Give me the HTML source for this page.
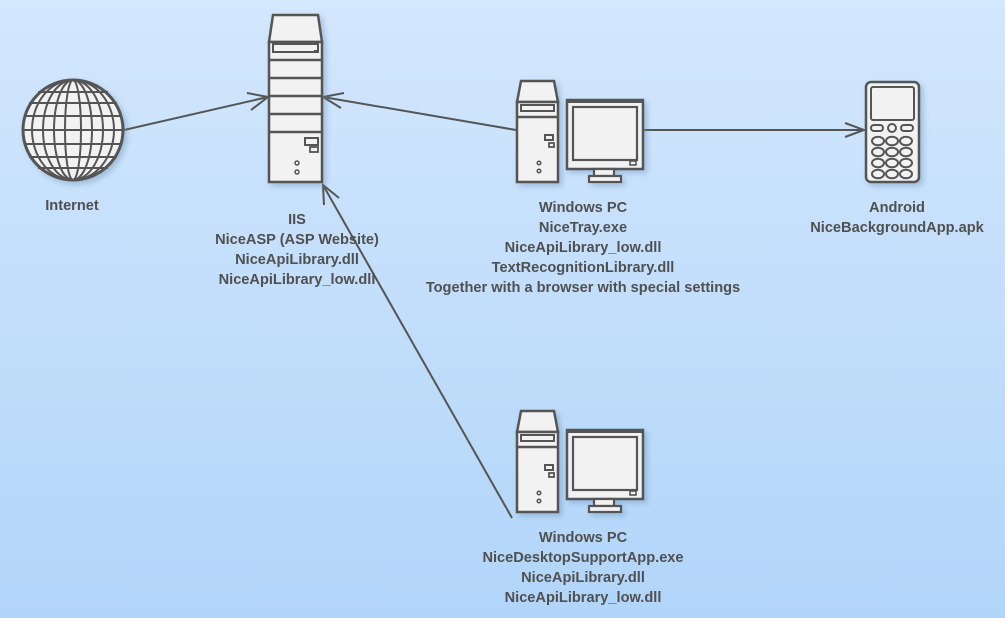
<!DOCTYPE html>
<html><head><meta charset="utf-8"><style>
html,body{margin:0;padding:0}
body{width:1005px;height:618px;overflow:hidden;background:linear-gradient(#d3e7fd,#b1d5f9);}
svg{display:block}
text{font-family:"Liberation Sans","DejaVu Sans",sans-serif;font-weight:bold;font-size:14.6px;fill:#505050;text-anchor:middle}
</style></head><body>
<svg width="1005" height="618" viewBox="0 0 1005 618" xmlns="http://www.w3.org/2000/svg">
<defs>
<filter id="sh" x="-20%" y="-20%" width="150%" height="150%"><feDropShadow dx="3" dy="3" stdDeviation="3" flood-color="#6a8fb5" flood-opacity="0.45"/></filter>
<g id="pc">
 <path d="M521,81 H554 L558,102 H517 Z" fill="#f2f2f2" stroke="#555" stroke-width="2.5"/>
 <rect x="517" y="102" width="41" height="80" fill="#f2f2f2" stroke="#555" stroke-width="2.5"/>
 <line x1="517" y1="117" x2="558" y2="117" stroke="#555" stroke-width="2.5"/>
 <rect x="521" y="105" width="33" height="6" fill="none" stroke="#555" stroke-width="2"/>
 <rect x="549" y="110" width="4" height="2" fill="#555"/>
 <rect x="545" y="135" width="8" height="5" fill="none" stroke="#555" stroke-width="2"/>
 <rect x="549" y="143" width="5" height="4" fill="none" stroke="#555" stroke-width="1.8"/>
 <circle cx="539" cy="163" r="1.8" fill="none" stroke="#555" stroke-width="1.5"/>
 <circle cx="539" cy="171" r="1.8" fill="none" stroke="#555" stroke-width="1.5"/>
 <rect x="567" y="100" width="76" height="69" fill="#f2f2f2" stroke="#555" stroke-width="2.5"/>
 <rect x="567" y="100" width="76" height="3" fill="#555"/>
 <rect x="573" y="107" width="64" height="53" fill="#f2f2f2" stroke="#555" stroke-width="2.2"/>
 <rect x="630" y="161" width="6" height="4" fill="none" stroke="#555" stroke-width="1.6"/>
 <rect x="594" y="169" width="20" height="7" fill="#f2f2f2" stroke="#555" stroke-width="2.2"/>
 <rect x="589" y="176" width="32" height="6" fill="#f2f2f2" stroke="#555" stroke-width="2.2"/>
</g>
</defs>
<g stroke="#555" stroke-width="2" fill="none">
 <line x1="124" y1="130" x2="268" y2="97"/>
 <polyline points="247,93 268,97 251,110"/>
 <line x1="516" y1="130" x2="323" y2="97"/>
 <polyline points="344,93 323,97 341,108"/>
 <line x1="512" y1="518" x2="323" y2="185"/>
 <polyline points="324,205 323,185 339,198"/>
 <line x1="644" y1="130" x2="864" y2="130"/>
 <polyline points="845,123 864,130 845,137"/>
</g>
<g filter="url(#sh)">
 <circle cx="73" cy="130" r="50" fill="#f2f2f2" stroke="#555" stroke-width="3"/>
</g>
<g stroke="#555" stroke-width="2" fill="none">
 <ellipse cx="73" cy="130" rx="8" ry="50"/>
 <ellipse cx="73" cy="130" rx="19" ry="50"/>
 <ellipse cx="73" cy="130" rx="30" ry="50"/>
 <ellipse cx="73" cy="130" rx="41" ry="50"/>
 <line x1="23" y1="130" x2="123" y2="130"/>
 <line x1="25" y1="116" x2="121" y2="116"/>
 <line x1="25" y1="144" x2="121" y2="144"/>
 <line x1="29" y1="103" x2="117" y2="103"/>
 <line x1="29" y1="157" x2="117" y2="157"/>
 <line x1="38" y1="92" x2="108" y2="92"/>
 <line x1="38" y1="168" x2="108" y2="168"/>
</g>
<g filter="url(#sh)">
 <path d="M273,15 H318 L322,42 H269 Z" fill="#f2f2f2" stroke="#555" stroke-width="2.5"/>
 <rect x="269" y="42" width="53" height="140" fill="#f2f2f2" stroke="#555" stroke-width="2.5"/>
</g>
<g stroke="#555" stroke-width="2.5" fill="none">
 <line x1="269" y1="60" x2="322" y2="60"/>
 <line x1="269" y1="78" x2="322" y2="78"/>
 <line x1="269" y1="96" x2="322" y2="96"/>
 <line x1="269" y1="114" x2="322" y2="114"/>
 <line x1="269" y1="132" x2="322" y2="132"/>
 <rect x="273" y="44" width="45" height="8" stroke-width="2"/>
 <rect x="305" y="138" width="13" height="7" stroke-width="2"/>
 <rect x="310" y="147" width="8" height="5" stroke-width="1.8"/>
 <circle cx="297" cy="163" r="2" stroke-width="1.5"/>
 <circle cx="297" cy="172" r="2" stroke-width="1.5"/>
</g>
<rect x="314" y="50" width="4" height="3" fill="#555"/>
<g filter="url(#sh)"><use href="#pc"/></g>
<g filter="url(#sh)" transform="translate(0,330)"><use href="#pc"/></g>
<g filter="url(#sh)">
 <rect x="866" y="82" width="53" height="100" rx="5" fill="#f2f2f2" stroke="#555" stroke-width="2.5"/>
</g>
<g stroke="#555" stroke-width="2" fill="none">
 <rect x="871" y="87" width="43" height="33" rx="2"/>
 <rect x="871" y="125" width="12" height="6" rx="3"/>
 <circle cx="892" cy="128" r="4"/>
 <rect x="901" y="125" width="12" height="6" rx="3"/>
 <ellipse cx="878" cy="141" rx="6" ry="4.3"/><ellipse cx="892" cy="141" rx="6" ry="4.3"/><ellipse cx="906" cy="141" rx="6" ry="4.3"/>
 <ellipse cx="878" cy="152" rx="6" ry="4.3"/><ellipse cx="892" cy="152" rx="6" ry="4.3"/><ellipse cx="906" cy="152" rx="6" ry="4.3"/>
 <ellipse cx="878" cy="163" rx="6" ry="4.3"/><ellipse cx="892" cy="163" rx="6" ry="4.3"/><ellipse cx="906" cy="163" rx="6" ry="4.3"/>
 <ellipse cx="878" cy="174" rx="6" ry="4.3"/><ellipse cx="892" cy="174" rx="6" ry="4.3"/><ellipse cx="906" cy="174" rx="6" ry="4.3"/>
</g>
<text x="72" y="210">Internet</text>
<text x="297" y="224">IIS</text>
<text x="297" y="244">NiceASP (ASP Website)</text>
<text x="297" y="264">NiceApiLibrary.dll</text>
<text x="297" y="284">NiceApiLibrary_low.dll</text>
<text x="583" y="212">Windows PC</text>
<text x="583" y="232">NiceTray.exe</text>
<text x="583" y="252">NiceApiLibrary_low.dll</text>
<text x="583" y="272">TextRecognitionLibrary.dll</text>
<text x="583" y="292">Together with a browser with special settings</text>
<text x="897" y="212">Android</text>
<text x="897" y="232">NiceBackgroundApp.apk</text>
<text x="583" y="542">Windows PC</text>
<text x="583" y="562">NiceDesktopSupportApp.exe</text>
<text x="583" y="582">NiceApiLibrary.dll</text>
<text x="583" y="602">NiceApiLibrary_low.dll</text>
</svg>
</body></html>
